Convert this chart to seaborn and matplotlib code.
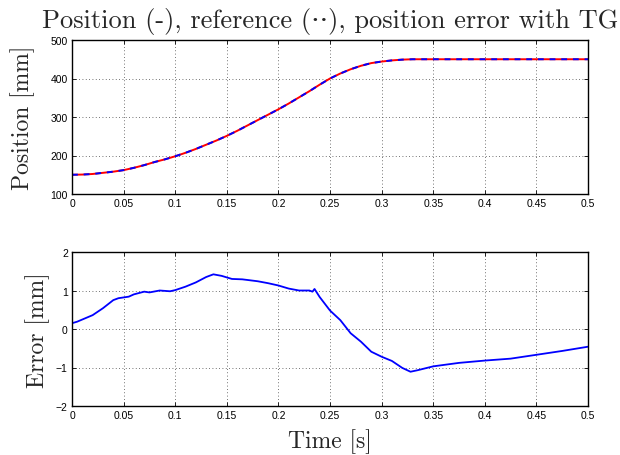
import numpy as np
import pandas as pd
import matplotlib
matplotlib.use("Agg")
import matplotlib.pyplot as plt
import seaborn as sns

# ---- data ----
pos_t = [0.0, 0.01, 0.02, 0.03, 0.04, 0.05, 0.06, 0.07, 0.08, 0.09, 0.10, 0.11, 0.12,
         0.13, 0.14, 0.15, 0.16, 0.17, 0.18, 0.19, 0.20, 0.21, 0.22, 0.23, 0.24, 0.25,
         0.26, 0.27, 0.28, 0.29, 0.30, 0.31, 0.32, 0.33, 0.35, 0.40, 0.45, 0.50]
pos_mm = [150, 150.5, 152, 155, 158, 162, 168, 175, 183, 190, 198, 207, 217,
          228, 239, 251, 264, 278, 292, 306, 320, 335, 351, 367, 384, 400,
          413, 424, 433, 440, 444, 447, 449, 450, 450, 450, 450, 450]

err_t = [0.0, 0.005, 0.02, 0.03, 0.04, 0.045, 0.05, 0.055, 0.06, 0.07, 0.075, 0.085,
         0.095, 0.10, 0.11, 0.12, 0.13, 0.137, 0.145, 0.155, 0.165, 0.18, 0.19, 0.20,
         0.21, 0.22, 0.23, 0.233, 0.235, 0.24, 0.25, 0.26, 0.27, 0.28, 0.29, 0.30,
         0.31, 0.32, 0.328, 0.335, 0.35, 0.375, 0.40, 0.425, 0.45, 0.475, 0.50]
err_mm = [0.15, 0.19, 0.36, 0.54, 0.75, 0.80, 0.82, 0.84, 0.90, 0.97, 0.95, 1.00,
          0.98, 1.01, 1.10, 1.21, 1.35, 1.42, 1.38, 1.30, 1.29, 1.24, 1.19, 1.13,
          1.05, 1.00, 1.00, 0.97, 1.04, 0.83, 0.48, 0.23, -0.11, -0.33, -0.59, -0.72,
          -0.83, -1.01, -1.11, -1.07, -0.97, -0.88, -0.82, -0.77, -0.67, -0.57, -0.46]

xticks = [0, 0.05, 0.1, 0.15, 0.2, 0.25, 0.3, 0.35, 0.4, 0.45, 0.5]
xtick_labels = ["0", "0.05", "0.1", "0.15", "0.2", "0.25", "0.3", "0.35", "0.4", "0.45", "0.5"]
pos_yticks = [100, 200, 300, 400, 500]
err_yticks = [-2, -1, 0, 1, 2]

title = "Position (-), reference (\u00b7\u00b7), position error with TG"

# ---- style ----
sns.set_style("ticks")
plt.rcParams["font.family"] = ["Liberation Sans", "DejaVu Sans"]
serif = ["cmr10", "DejaVu Serif"]

fig = plt.figure(figsize=(6.2, 4.56), dpi=100)
ax1 = fig.add_axes([72/620, 1-195/456, 516/620, 154/456])
ax2 = fig.add_axes([72/620, 1-407/456, 516/620, 154/456])

dpos = pd.DataFrame({"t": pos_t, "p": pos_mm})
derr = pd.DataFrame({"t": err_t, "e": err_mm})

sns.lineplot(data=dpos, x="t", y="p", ax=ax1, color="red", lw=1.4)
sns.lineplot(data=dpos, x="t", y="p", ax=ax1, color="blue", lw=1.4,
             linestyle=(0, (3, 3)))
sns.lineplot(data=derr, x="t", y="e", ax=ax2, color="blue", lw=1.3)

for ax, yt, ylim in [(ax1, pos_yticks, (100, 500)), (ax2, err_yticks, (-2, 2))]:
    ax.set_xlim(0, 0.5)
    ax.set_ylim(*ylim)
    ax.set_xticks(xticks)
    ax.set_xticklabels(xtick_labels)
    ax.set_yticks(yt)
    ax.tick_params(direction="in", top=True, right=True, labelsize=7.5,
                   length=3, width=0.6, pad=3, colors="black")
    ax.grid(True, linestyle=(0, (1, 3)), color="#444444", lw=0.6)
    for s in ax.spines.values():
        s.set_visible(True)
        s.set_linewidth(1.0)
        s.set_color("black")
    ax.set_xlabel("")
    ax.set_ylabel("")

ax1.set_ylabel("Position [mm]", family=serif, fontsize=17, labelpad=11)
ax2.set_ylabel("Error [mm]", family=serif, fontsize=17, labelpad=4)
ax2.set_xlabel("Time [s]", family=serif, fontsize=17, labelpad=6)
ax1.set_title(title, family=serif, fontsize=19, pad=9)

fig.savefig("out.png", dpi=100)
